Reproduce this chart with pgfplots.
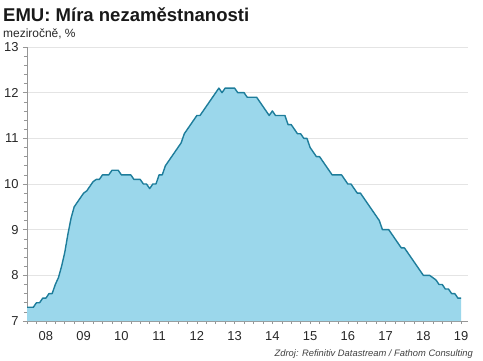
\documentclass[border=0pt]{standalone}
\usepackage{pgfplots}
\pgfplotsset{compat=1.18}
\usepackage{pgfplotstable}
\usepackage{fontspec}
\setmainfont{Liberation Sans}
\definecolor{fillc}{RGB}{155,215,235}
\definecolor{linec}{RGB}{30,125,155}
\definecolor{gridc}{RGB}{228,228,228}
\definecolor{axc}{RGB}{150,150,150}
\definecolor{txt}{RGB}{40,40,40}
\pgfplotstableread{
m v
0 7.3
1 7.3
2 7.3
3 7.4
4 7.4
5 7.5
6 7.5
7 7.6
8 7.6
9 7.8
10 7.95
11 8.2
12 8.5
13 8.9
14 9.25
15 9.5
16 9.6
17 9.7
18 9.8
19 9.85
20 9.95
21 10.05
22 10.1
23 10.1
24 10.2
25 10.2
26 10.2
27 10.3
28 10.3
29 10.3
30 10.2
31 10.2
32 10.2
33 10.2
34 10.1
35 10.1
36 10.1
37 10.0
38 10.0
39 9.9
40 10.0
41 10.0
42 10.2
43 10.2
44 10.4
45 10.5
46 10.6
47 10.7
48 10.8
49 10.9
50 11.1
51 11.2
52 11.3
53 11.4
54 11.5
55 11.5
56 11.6
57 11.7
58 11.8
59 11.9
60 12.0
61 12.1
62 12.0
63 12.1
64 12.1
65 12.1
66 12.1
67 12.0
68 12.0
69 12.0
70 11.9
71 11.9
72 11.9
73 11.9
74 11.8
75 11.7
76 11.6
77 11.5
78 11.6
79 11.5
80 11.5
81 11.5
82 11.5
83 11.3
84 11.3
85 11.2
86 11.1
87 11.1
88 11.0
89 11.0
90 10.8
91 10.7
92 10.6
93 10.6
94 10.5
95 10.4
96 10.3
97 10.2
98 10.2
99 10.2
100 10.2
101 10.1
102 10.0
103 10.0
104 9.9
105 9.8
106 9.8
107 9.7
108 9.6
109 9.5
110 9.4
111 9.3
112 9.2
113 9.0
114 9.0
115 9.0
116 8.9
117 8.8
118 8.7
119 8.6
120 8.6
121 8.5
122 8.4
123 8.3
124 8.2
125 8.1
126 8.0
127 8.0
128 8.0
129 7.95
130 7.9
131 7.8
132 7.8
133 7.7
134 7.7
135 7.6
136 7.6
137 7.5
138 7.5
}\unemp
\begin{document}
\begin{tikzpicture}
\begin{axis}[
  scale only axis,
  width=441bp, height=274bp,
  xmin=0, xmax=140.2,
  ymin=7, ymax=13,
  axis lines*=left,
  axis line style={axc, line width=0.6pt},
  xtick={6,18,...,138},
  xticklabels={08,09,10,11,12,13,14,15,16,17,18,19},
  minor xtick={0,3,...,138},
  ytick={7,8,...,13},
  minor ytick={7,7.2,...,13},
  tick align=outside,
  major x tick style={draw=none},
  minor x tick style={axc, line width=0.5pt},
  major y tick style={axc, line width=0.5pt},
  minor y tick style={axc, line width=0.5pt},
  major tick length=4bp,
  minor tick length=3bp,
  ymajorgrids,
  major grid style={gridc, line width=0.7pt},
  ticklabel style={font=\fontsize{13}{15}\selectfont, text=txt},
  /pgf/number format/assume math mode=true,
  xticklabel style={yshift=-3bp},
  yticklabel style={xshift=-1bp},
  clip=false,
]
\addplot[fill=fillc, draw=none] table[x=m,y=v]{\unemp} \closedcycle;
\addplot[linec, line width=1.4pt, line join=round] table[x=m,y=v]{\unemp};
\end{axis}
\node[anchor=base west, inner sep=0, font=\fontsize{18.6}{22}\bfseries\selectfont, text=black!90]
  at ([xshift=-24bp,yshift=25bp]current axis.north west) {EMU: Míra nezaměstnanosti};
\node[anchor=base west, inner sep=0, font=\fontsize{12}{14}\selectfont, text=txt]
  at ([xshift=-24bp,yshift=9bp]current axis.north west) {meziročně, \%};
\node[anchor=base east, inner sep=0, font=\fontsize{9.4}{11}\itshape\selectfont, text=black!75]
  at ([xshift=5bp,yshift=-35bp]current axis.south east) {Zdroj: Refinitiv Datastream / Fathom Consulting};
\path ([xshift=-27bp,yshift=-40bp]current axis.south west) rectangle ([xshift=456bp,yshift=47bp]current axis.north west);
\end{tikzpicture}
\end{document}
